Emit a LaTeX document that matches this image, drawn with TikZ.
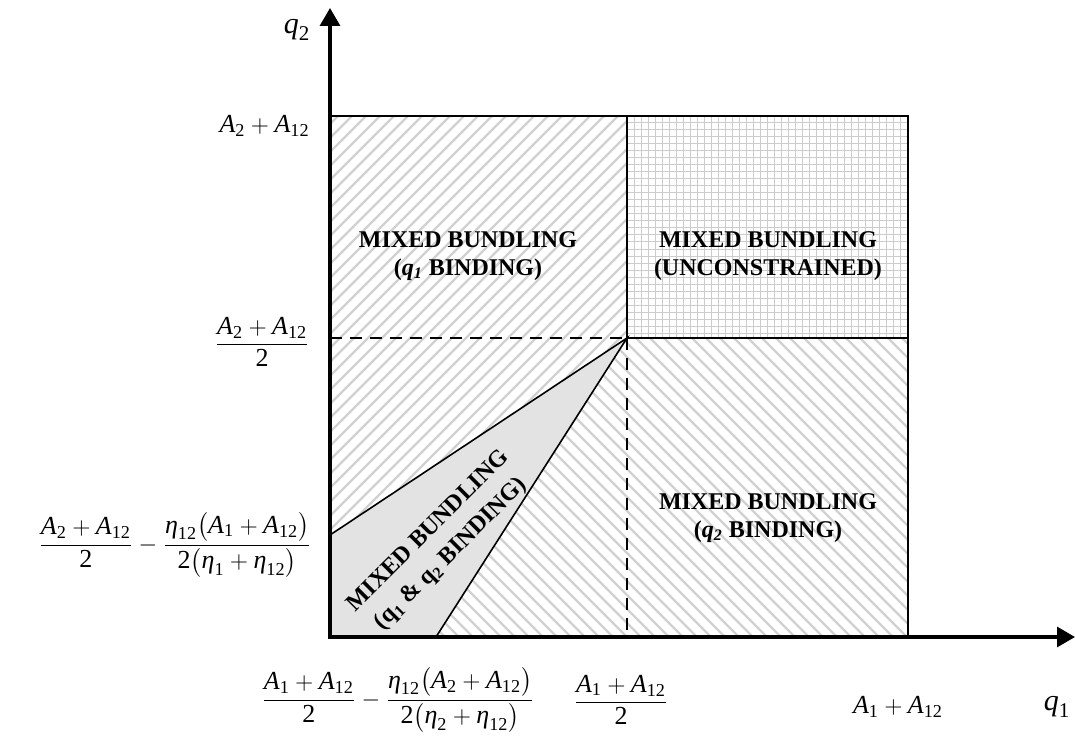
\documentclass[tikz,border=0pt]{standalone}
\usepackage{amsmath}
\usepackage{fontspec}
\setmainfont{Liberation Serif}
\usetikzlibrary{arrows.meta}
\newcommand\tx[1]{\text{\normalfont #1}}
\newcommand\mA{\text{\normalfont\itshape A}}
\newcommand\mq{\text{\normalfont\itshape q}}
\newcommand\meta{\text{\normalfont\itshape η}}
\newcommand\pl{\mathbin{+}}
\begin{document}
\begin{tikzpicture}[x=0.5pt,y=-0.5pt,
  hatch/.style={draw=black!18, line width=1.1pt},
  gridline/.style={draw=black!20, line width=0.5pt},
  border/.style={line width=0.8pt},
  axis/.style={line width=1.6pt, {Triangle[length=9pt,width=10pt]}-{Triangle[length=9pt,width=10pt]}},
  guide/.style={line width=0.7pt, dash pattern=on 6pt off 4pt},
  lbl/.style={font=\fontsize{13}{15}\selectfont, inner sep=0pt},
  qlbl/.style={font=\fontsize{15}{17}\selectfont, inner sep=0pt},
  region/.style={font=\fontsize{12}{14}\selectfont\bfseries, align=center, inner sep=0pt}]
\useasboundingbox (0,0) rectangle (1075,743);
\coordinate (O) at (330,637);
\coordinate (Ytip) at (330,8);
\coordinate (Xtip) at (1075,637);
\coordinate (TL) at (330,116);
\coordinate (TM) at (627,116);
\coordinate (TR) at (908,116);
\coordinate (C) at (627,338);
\coordinate (ML) at (330,338);
\coordinate (MR) at (908,338);
\coordinate (BM) at (627,637);
\coordinate (BR) at (908,637);
\coordinate (P) at (330,535);
\coordinate (Q) at (436,637);
% region fills
\begin{scope}
\clip (TL) -- (TM) -- (C) -- (P) -- cycle;
\foreach \c in {-260,-246,...,480} \draw[hatch] (\c,700) -- ++(700,-700);
\end{scope}
\begin{scope}
\clip (C) -- (MR) -- (BR) -- (Q) -- cycle;
\foreach \c in {-220,-206,...,600} \draw[hatch] (\c,0) -- ++(700,700);
\end{scope}
\begin{scope}
\clip (TM) rectangle (MR);
\foreach \x in {627,634,...,910} \draw[gridline] (\x,110) -- (\x,345);
\foreach \y in {116,123,...,340} \draw[gridline] (620,\y) -- (915,\y);
\end{scope}
\fill[black!11] (C) -- (P) -- (O) -- (Q) -- cycle;
% lines
\draw[border] (TL) -- (TR) -- (BR);
\draw[border] (TM) -- (C) -- (MR);
\draw[guide] (ML) -- (C);
\draw[guide] (C) -- (BM);
\draw[border] (P) -- (C) -- (Q);
\draw[axis] (Ytip) -- (O) -- (Xtip);
% axis labels
\node[qlbl] (q2) at (297,30) {$\mq_{\tx{2}}$};
\node[qlbl] (q1) at (1057,707) {$\mq_{\tx{1}}$};
\node[lbl, anchor=east] (y1) at (310,126) {$\mA_{\tx{2}}\pl\mA_{\tx{12}}$};
\node[lbl, anchor=east] (y2) at (310,342) {$\dfrac{\mA_{\tx{2}}\pl\mA_{\tx{12}}}{\tx{2}}$};
\node[lbl, anchor=east] (y3) at (312,545) {$\dfrac{\mA_{\tx{2}}\pl\mA_{\tx{12}}}{\tx{2}}-\dfrac{\meta_{\tx{12}}\bigl(\mA_{\tx{1}}\pl\mA_{\tx{12}}\bigr)}{\tx{2}\bigl(\meta_{\tx{1}}\pl\meta_{\tx{12}}\bigr)}$};
\node[lbl] (x1) at (398,700) {$\dfrac{\mA_{\tx{1}}\pl\mA_{\tx{12}}}{\tx{2}}-\dfrac{\meta_{\tx{12}}\bigl(\mA_{\tx{2}}\pl\mA_{\tx{12}}\bigr)}{\tx{2}\bigl(\meta_{\tx{2}}\pl\meta_{\tx{12}}\bigr)}$};
\node[lbl] (x2) at (621,700) {$\dfrac{\mA_{\tx{1}}\pl\mA_{\tx{12}}}{\tx{2}}$};
\node[lbl] (x3) at (898,707) {$\mA_{\tx{1}}\pl\mA_{\tx{12}}$};
% region labels
\node[region] (r1) at (468,256) {MIXED BUNDLING\\({\itshape q\textsubscript{1}} BINDING)};
\node[region] (r2) at (768,256) {MIXED BUNDLING\\(UNCONSTRAINED)};
\node[region] (r3) at (768,518) {MIXED BUNDLING\\({\itshape q\textsubscript{2}} BINDING)};
\node[region, rotate=45] (r4) at (440,543) {MIXED BUNDLING\\[2pt](q\textsubscript{1} \& q\textsubscript{2} BINDING)};
\end{tikzpicture}
\end{document}
